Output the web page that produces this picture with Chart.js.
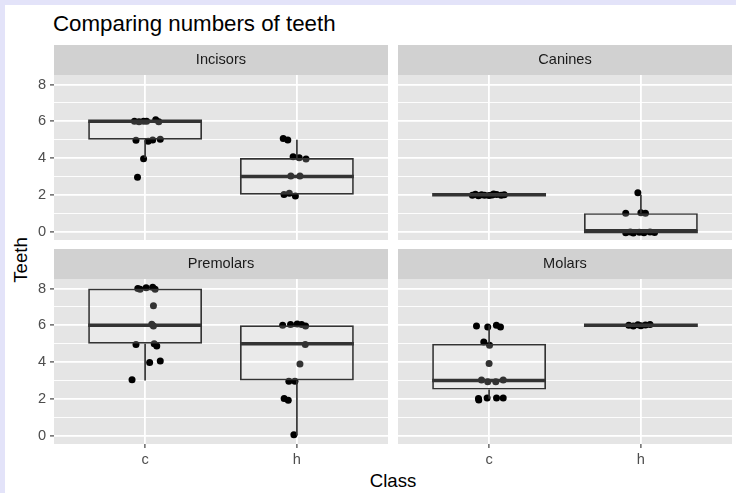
<!DOCTYPE html>
<html>
<head>
<meta charset="utf-8">
<script src="https://cdn.jsdelivr.net/npm/chart.js@4.4.1/dist/chart.umd.min.js"></script>
<style>
  html, body { margin: 0; padding: 0; }
  body {
    width: 736px; height: 493px; position: relative; overflow: hidden;
    background: #e3e3f9;
    font-family: "Liberation Sans", Arial, sans-serif;
  }
  #sheet { position: absolute; left: 5px; top: 5px; right: 0; bottom: 0; background: #ffffff; }
  canvas { position: absolute; display: block; }
  .txt { position: absolute; white-space: nowrap; line-height: 1; color: #000000; }
</style>
</head>
<body>
<div id="sheet"></div>
<div class="txt" style="left:53px; top:12.8px; font-size:22.3px;">Comparing numbers of teeth</div>
<div class="txt" style="left:21px; top:260px; font-size:18.6px; transform:translate(-50%,-50%) rotate(-90deg);">Teeth</div>
<div class="txt" style="left:393px; top:472px; font-size:18.6px; transform:translateX(-50%);">Class</div>

<canvas id="facet0" width="368" height="195" style="left:20px; top:45px;"></canvas>
<canvas id="facet1" width="334" height="195" style="left:398px; top:45px;"></canvas>
<canvas id="facet2" width="368" height="219" style="left:20px; top:249px;"></canvas>
<canvas id="facet3" width="334" height="219" style="left:398px; top:249px;"></canvas>

<script>
// Classes on the x axis and their positions
const CLASSES = ['c', 'h'];
const CLASS_POS = [1, 2];

// Facet titles
const TOOTH_TYPES = ['Incisors', 'Canines', 'Premolars', 'Molars'];

// y-axis breaks
const Y_MAJOR = [0, 2, 4, 6, 8];
const Y_MINOR = [1, 3, 5, 7];

// Box summaries per class: [lower whisker, Q1, median, Q3, upper whisker]
const INCISORS_BOX  = [[4, 5, 6, 6, 6], [2, 2, 3, 4, 5]];
const CANINES_BOX   = [[2, 2, 2, 2, 2], [0, 0, 0, 1, 2]];
const PREMOLARS_BOX = [[3, 5, 6, 8, 8], [0, 3, 5, 6, 6]];
const MOLARS_BOX    = [[2, 2.5, 3, 5, 6], [6, 6, 6, 6, 6]];

// Jittered observations: [x position, teeth]
const INCISORS_PTS = [
  [0.93, 6.0], [0.96, 5.97], [0.99, 6.0], [1.01, 6.0], [1.07, 6.08], [1.09, 5.97],
  [0.94, 4.97], [1.02, 4.92], [1.05, 4.98], [1.10, 5.02], [0.99, 3.96], [0.95, 2.95],
  [1.91, 5.07], [1.94, 4.98], [1.975, 4.07], [2.015, 4.02], [2.06, 3.95],
  [1.96, 3.02], [2.02, 3.02], [1.915, 2.02], [1.95, 2.08], [1.99, 1.93]
];
const CANINES_PTS = [
  [0.89, 1.98], [0.91, 2.03], [0.93, 1.95], [0.95, 2.0], [0.97, 1.97], [1.0, 1.96],
  [1.02, 1.99], [1.03, 2.04], [1.05, 2.02], [1.08, 1.98], [1.10, 2.0],
  [1.98, 2.11], [1.90, 0.99], [2.0, 1.02], [2.03, 0.99],
  [1.90, -0.07], [1.93, -0.03], [1.95, -0.08], [1.99, -0.04], [2.02, -0.06], [2.06, -0.02], [2.09, -0.05]
];
const PREMOLARS_PTS = [
  [0.952, 8.0], [0.967, 7.96], [1.007, 8.05], [1.05, 8.07], [1.066, 7.96], [1.055, 7.07],
  [1.044, 6.06], [1.055, 5.96], [0.94, 4.95], [1.06, 4.99], [1.077, 4.88], [1.03, 3.97],
  [1.10, 4.06], [0.914, 3.03],
  [1.906, 6.0], [1.958, 6.04], [2.002, 6.07], [2.031, 6.04], [2.057, 5.96], [2.055, 4.95],
  [2.02, 3.9], [1.947, 2.96], [1.987, 2.96], [1.916, 2.01], [1.943, 1.92], [1.98, 0.05]
];
const MOLARS_PTS = [
  [0.917, 5.96], [0.991, 5.91], [1.048, 6.0], [1.075, 5.91], [0.965, 5.09], [1.003, 4.91],
  [1.0, 3.92], [0.95, 3.02], [0.991, 2.93], [1.044, 2.93], [1.093, 3.02],
  [0.932, 1.93], [0.93, 2.02], [0.987, 2.05], [1.049, 2.05], [1.093, 2.05],
  [1.92, 6.0], [1.95, 5.96], [1.98, 6.03], [2.0, 5.98], [2.03, 6.02], [2.06, 6.04]
];

const FACET_BOXES = [INCISORS_BOX, CANINES_BOX, PREMOLARS_BOX, MOLARS_BOX];
const FACET_PTS = [INCISORS_PTS, CANINES_PTS, PREMOLARS_PTS, MOLARS_PTS];

// Styling
const FONT = '"Liberation Sans", Arial, sans-serif';
const PANEL_BG = '#e5e5e5';
const STRIP_BG = '#d1d1d1';
const INK = '#333333';
const BOX_WIDTH = 0.75;

// Panel and strip backgrounds
const facetBackground = {
  id: 'facetBackground',
  beforeDraw(chart) {
    const { ctx, chartArea: a } = chart;
    const t = chart.titleBlock;
    ctx.save();
    ctx.fillStyle = PANEL_BG;
    ctx.fillRect(a.left, a.top, a.width, a.height);
    ctx.fillStyle = STRIP_BG;
    ctx.fillRect(a.left, t.top, a.width, t.height);
    ctx.restore();
  }
};

function yScale(showLabels) {
  const isMajor = v => Y_MAJOR.includes(v);
  return {
    type: 'linear', min: -0.46, max: 8.52, bounds: 'data',
    afterBuildTicks: s => { s.ticks = Y_MAJOR.concat(Y_MINOR).sort((a, b) => a - b).map(v => ({ value: v })); },
    afterFit: s => { s.width = showLabels ? 34 : 0; s.paddingTop = 0; s.paddingBottom = 0; },
    border: { display: false },
    grid: {
      color: '#ffffff',
      lineWidth: c => (c.tick && isMajor(c.tick.value)) ? 1.8 : 0.9,
      drawTicks: showLabels, tickLength: 4, tickWidth: 1.1,
      tickColor: c => (c.tick && isMajor(c.tick.value)) ? INK : 'rgba(0,0,0,0)'
    },
    ticks: {
      display: showLabels, autoSkip: false, padding: 4, color: '#4d4d4d',
      font: { family: FONT, size: 14.6 },
      callback: v => isMajor(v) ? String(v) : ''
    }
  };
}

function xScale(showLabels) {
  return {
    type: 'linear', min: 0.4, max: 2.6, bounds: 'data', offset: false,
    afterBuildTicks: s => { s.ticks = CLASS_POS.map(v => ({ value: v })); },
    afterFit: s => { s.height = showLabels ? 24 : 0; s.paddingLeft = 0; s.paddingRight = 0; },
    border: { display: false },
    grid: { color: '#ffffff', lineWidth: 1.8, offset: false, drawTicks: showLabels, tickLength: 4, tickWidth: 1.1, tickColor: INK },
    ticks: {
      display: showLabels, autoSkip: false, maxRotation: 0, padding: 3, color: '#4d4d4d',
      font: { family: FONT, size: 14.6 },
      callback: (v, i) => CLASSES[i]
    }
  };
}

function facetDatasets(points, boxes) {
  const whiskers = [];
  const medians = [];
  boxes.forEach((b, i) => {
    const x = CLASS_POS[i];
    whiskers.push({ x, y: b[0] }, { x, y: b[1] }, { x, y: null }, { x, y: b[3] }, { x, y: b[4] }, { x, y: null });
    medians.push({ x: x - BOX_WIDTH / 2, y: b[2] }, { x: x + BOX_WIDTH / 2, y: b[2] }, { x, y: null });
  });
  return [
    {
      type: 'scatter', order: 3,
      data: points.map(([x, y]) => ({ x, y })),
      pointRadius: 3.5, pointBackgroundColor: '#000000', pointBorderWidth: 0, showLine: false
    },
    {
      type: 'bar', order: 2,
      data: boxes.map((b, i) => ({ x: CLASS_POS[i], y: [b[1], b[3]] })),
      backgroundColor: 'rgba(255,255,255,0.2)', borderColor: INK, borderWidth: 1.7,
      borderSkipped: false, grouped: false, categoryPercentage: 1, barPercentage: BOX_WIDTH
    },
    {
      type: 'line', order: 1, data: whiskers,
      borderColor: INK, borderWidth: 1.7, pointRadius: 0, spanGaps: false, fill: false, tension: 0
    },
    {
      type: 'line', order: 1, data: medians,
      borderColor: INK, borderWidth: 3.4, pointRadius: 0, spanGaps: false, fill: false, tension: 0,
      borderCapStyle: 'butt'
    }
  ];
}

TOOTH_TYPES.forEach((name, k) => {
  const leftCol = k % 2 === 0;
  const bottomRow = k >= 2;
  new Chart(document.getElementById('facet' + k), {
    type: 'scatter',
    data: { datasets: facetDatasets(FACET_PTS[k], FACET_BOXES[k]) },
    options: {
      responsive: false, animation: false, events: [],
      layout: { padding: 0, autoPadding: false },
      scales: { x: xScale(bottomRow), y: yScale(leftCol) },
      plugins: {
        legend: { display: false },
        tooltip: { enabled: false },
        title: {
          display: true, text: name, fullSize: false, color: '#1a1a1a',
          font: { family: FONT, size: 14.6, weight: 'normal', lineHeight: '16px' },
          padding: { top: 7, bottom: 7 }
        }
      }
    },
    plugins: [facetBackground]
  });
});
</script>
</body>
</html>
